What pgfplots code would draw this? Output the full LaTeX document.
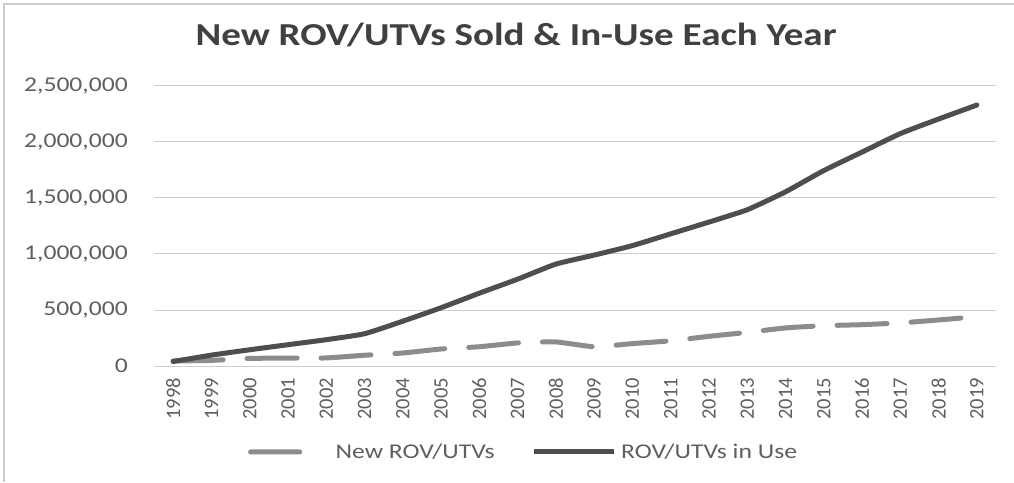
\documentclass[border=0pt]{standalone}
\usepackage{pgfplots}
\pgfplotsset{compat=1.18}
\usepackage{fontspec}
\setmainfont{Carlito}[FakeStretch=1.22]
\newfontfamily\yearfont{Carlito}
\definecolor{inuse}{RGB}{78,78,78}
\definecolor{newc}{RGB}{140,140,140}
\definecolor{txt}{RGB}{95,95,95}
\definecolor{titlec}{RGB}{64,64,64}
\definecolor{gridc}{RGB}{205,205,205}

\pgfplotstableread{
x year inuse newsold
0 1998 40000 45000
1 1999 97000 50000
2 2000 145000 68000
3 2001 190000 70000
4 2002 235000 72000
5 2003 288000 96000
6 2004 400000 116000
7 2005 520000 152000
8 2006 650000 172000
9 2007 775000 206000
10 2008 910000 215000
11 2009 990000 172000
12 2010 1075000 200000
13 2011 1180000 225000
14 2012 1285000 265000
15 2013 1395000 300000
16 2014 1555000 340000
17 2015 1745000 360000
18 2016 1910000 369000
19 2017 2075000 385000
20 2018 2205000 411000
21 2019 2330000 440000
}\datatable

\begin{document}
\begin{tikzpicture}
\useasboundingbox (0,0) rectangle (1014pt,482pt);
\fill[white] (0,0) rectangle (1014pt,482pt);
\draw[gray!40, line width=1.2pt] (4pt,0) -- (4pt,478pt) -- (1014pt,478pt);
\begin{axis}[
  scale only axis, width=842pt, height=280pt,
  at={(154pt,116pt)}, anchor=south west,
  xmin=-0.5, xmax=21.5, ymin=0, ymax=2500000,
  xtick={0,1,...,21},
  xticklabels={1998,1999,2000,2001,2002,2003,2004,2005,2006,2007,2008,2009,2010,2011,2012,2013,2014,2015,2016,2017,2018,2019},
  ytick={0,500000,1000000,1500000,2000000,2500000},
  scaled y ticks=false,
  axis line style={draw=none},
  major tick length=0pt,
  ymajorgrids, major grid style={draw=gridc, line width=1pt},
  /pgf/number format/fixed,
  /pgf/number format/1000 sep={,},
  /pgf/number format/assume math mode=true,
  y tick label style={inner sep=0pt, font=\fontsize{21}{25}\selectfont, text=txt},
  yticklabel shift=26pt,
  x tick label style={rotate=90, anchor=east, inner sep=0pt, font=\yearfont\fontsize{20.5}{20.5}\selectfont, text=txt},
  xticklabel shift=12pt,
  title={New ROV/UTVs Sold \& In-Use Each Year},
  title style={at={(0.43,1)}, anchor=base, yshift=34pt, inner sep=0pt, font=\bfseries\fontsize{32}{32}\selectfont, text=titlec},
  legend columns=2,
  legend style={at={(0.1116,-0.307)}, anchor=west, draw=none, fill=none, inner sep=0pt,
    nodes={inner sep=0pt, text=txt, font=\fontsize{21}{25}\selectfont},
    /tikz/every even column/.append style={column sep=39pt}},
]
\addplot[newc, line width=5pt, line cap=round, dash pattern=on 50pt off 24pt, smooth, tension=0.3,
  legend image code/.code={\fill[newc, draw=none, rounded corners=2.4pt] (0pt,-2.5pt) rectangle (54pt,2.5pt); \path (85pt,0pt);}]
  table[x=x, y=newsold] {\datatable};
\addlegendentry{New ROV/UTVs}
\addplot[inuse, line width=5pt, line cap=round, smooth, tension=0.3,
  legend image code/.code={\fill[inuse, draw=none] (0pt,-2.5pt) rectangle (80pt,2.5pt); \path (85pt,0pt);}]
  table[x=x, y=inuse] {\datatable};
\addlegendentry{ROV/UTVs in Use}
\end{axis}
\end{tikzpicture}
\end{document}
